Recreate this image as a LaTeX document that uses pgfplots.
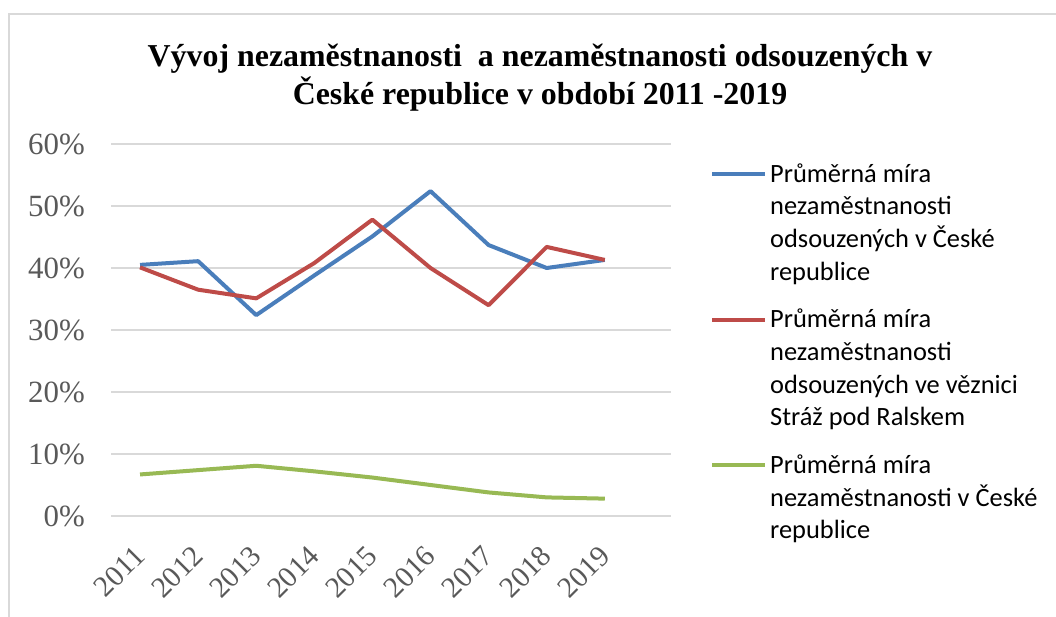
\documentclass[border=0pt]{standalone}
\usepackage{fontspec}
\setmainfont{Liberation Serif}
\newfontfamily\calib{Carlito}
\usepackage{pgfplots}
\pgfplotsset{compat=1.18}
\definecolor{cblue}{HTML}{4A7EBB}
\definecolor{cred}{HTML}{BE4B48}
\definecolor{cgreen}{HTML}{98B954}
\definecolor{gridc}{HTML}{D9D9D9}
\definecolor{lab}{HTML}{595959}
\newcommand{\lnst}{\rule{0pt}{31.2bp}}
\newcommand{\flst}{\rule{0pt}{46bp}}
\begin{document}
\begin{tikzpicture}[x=1bp,y=1bp]
\useasboundingbox (0,0) rectangle (1056,617);
\fill[white] (0,0) rectangle (1056,617);
\draw[color=gridc, line width=2bp] (9,0) -- (9,603) -- (1056,603);
\node[anchor=base, align=center, inner sep=0pt, font=\fontsize{32}{39}\selectfont\bfseries] at (540,512)
  {Vývoj nezaměstnanosti\ \ a nezaměstnanosti odsouzených v\\České republice v období 2011 -2019};
\begin{axis}[
  at={(111bp,101bp)}, anchor=south west,
  scale only axis, width=560bp, height=372bp,
  xmin=-0.5, xmax=9.14, ymin=0, ymax=60,
  axis line style={draw=none},
  major tick length=0pt,
  ymajorgrids, grid style={color=gridc, line width=1.3bp},
  ytick={0,10,20,30,40,50,60},
  yticklabels={0\%,10\%,20\%,30\%,40\%,50\%,60\%},
  yticklabel style={anchor=east, inner sep=0pt, xshift=-26bp, font=\fontsize{31}{36}\selectfont, color=lab},
  xtick={0,1,2,3,4,5,6,7,8},
  xticklabels={2011,2012,2013,2014,2015,2016,2017,2018,2019},
  xticklabel style={xshift=0bp, yshift=-35bp, rotate=45, anchor=east, inner sep=0pt, font=\fontsize{29.5}{34}\selectfont, color=lab},
  legend style={at={(axis description cs:1.0696,0.9818)}, anchor=north west, draw=none, fill=none,
    inner sep=0pt, row sep=0pt, column sep=3bp, cells={anchor=base west}, nodes={inner sep=0pt},
    font=\calib\fontsize{26.5}{31.7}\selectfont},
  legend image code/.code={\draw[#1, line width=4bp] (0bp,8bp) -- (53bp,8bp);},
  every axis plot/.append style={line width=4bp, line join=round},
]
\addplot[color=cblue] coordinates {(0,40.5) (1,41.1) (2,32.4) (3,38.8) (4,45.1) (5,52.4) (6,43.7) (7,40.0) (8,41.3)};
\addlegendentry{\lnst Průměrná míra}
\addlegendimage{empty legend}\addlegendentry{\lnst nezaměstnanosti}
\addlegendimage{empty legend}\addlegendentry{\lnst odsouzených v České}
\addlegendimage{empty legend}\addlegendentry{\lnst republice}
\addplot[color=cred] coordinates {(0,40.1) (1,36.5) (2,35.1) (3,40.8) (4,47.8) (5,40.0) (6,34.0) (7,43.4) (8,41.3)};
\addlegendentry{\flst Průměrná míra}
\addlegendimage{empty legend}\addlegendentry{\lnst nezaměstnanosti}
\addlegendimage{empty legend}\addlegendentry{\lnst odsouzených ve věznici}
\addlegendimage{empty legend}\addlegendentry{\lnst Stráž pod Ralskem}
\addplot[color=cgreen] coordinates {(0,6.7) (1,7.4) (2,8.1) (3,7.2) (4,6.2) (5,5.0) (6,3.8) (7,3.0) (8,2.8)};
\addlegendentry{\flst Průměrná míra}
\addlegendimage{empty legend}\addlegendentry{\lnst nezaměstnanosti v České}
\addlegendimage{empty legend}\addlegendentry{\lnst republice}
\end{axis}
\end{tikzpicture}
\end{document}
